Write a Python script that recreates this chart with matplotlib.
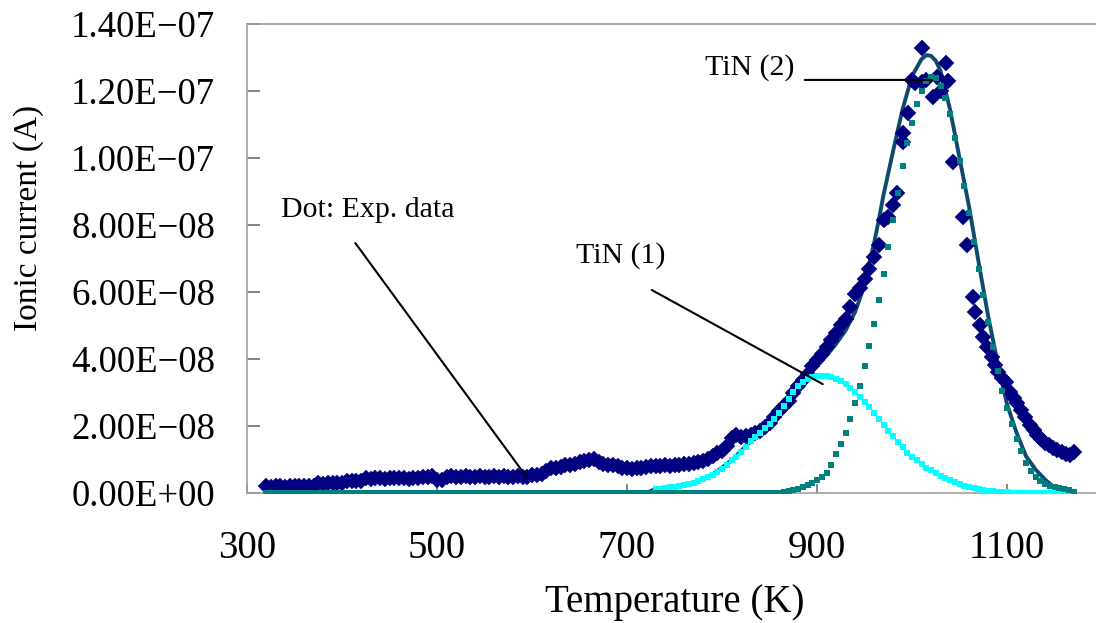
import numpy as np
import matplotlib.pyplot as plt
from matplotlib.ticker import FuncFormatter, MultipleLocator

plt.rcParams['font.family'] = ['Liberation Serif', 'DejaVu Serif']

# valores de corrente em unidades de 1e-8 A
ESCALA = 1e-8

# dados experimentais (losangos)
exp_t = list(range(320, 985, 5)) + [
    984, 990, 991, 996, 1000, 1003, 1010, 1011, 1015, 1022,
    1026, 1031, 1036, 1038, 1043, 1054, 1058, 1064, 1066, 1072,
    1075, 1079, 1084, 1087, 1091, 1095, 1099, 1103, 1107, 1111,
    1115, 1119, 1124, 1128, 1132, 1136, 1140, 1144, 1148, 1153,
    1158, 1162, 1166, 1170,
]
exp_i = [
    0.20, 0.18, 0.21, 0.20, 0.19, 0.21, 0.20, 0.22, 0.21, 0.20,
    0.22, 0.29, 0.28, 0.30, 0.29, 0.31, 0.30, 0.36, 0.35, 0.37,
    0.36, 0.44, 0.43, 0.45, 0.44, 0.43, 0.45, 0.44, 0.46, 0.44,
    0.43, 0.45, 0.44, 0.49, 0.48, 0.50, 0.38, 0.40, 0.49, 0.50,
    0.48, 0.49, 0.51, 0.49, 0.48, 0.50, 0.49, 0.48, 0.50, 0.49,
    0.51, 0.48, 0.49, 0.50, 0.48, 0.49, 0.54, 0.55, 0.56, 0.66,
    0.74, 0.76, 0.78, 0.84, 0.85, 0.86, 0.92, 0.94, 0.98, 1.02,
    0.92, 0.86, 0.84, 0.83, 0.80, 0.76, 0.75, 0.73, 0.76, 0.74,
    0.77, 0.80, 0.82, 0.80, 0.84, 0.82, 0.85, 0.83, 0.86, 0.88,
    0.90, 0.92, 0.96, 1.02, 1.10, 1.18, 1.25, 1.40, 1.65, 1.72,
    1.68, 1.70, 1.74, 1.80, 1.86, 1.97, 2.10, 2.27, 2.45, 2.60,
    2.75, 2.98, 3.20, 3.38, 3.55, 3.78, 3.97, 4.15, 4.35, 4.58,
    4.78, 5.00, 5.20, 5.55, 5.95, 6.12, 6.40, 6.70, 7.05, 7.40,
    8.15, 8.25, 8.60,
    8.96, 10.48, 10.75, 11.34, 12.33, 12.24, 13.28, 12.27, 12.33, 11.82,
    12.42, 12.00, 12.84, 12.30, 9.88, 8.24, 7.40, 5.85, 5.40, 5.01,
    4.66, 4.35, 4.06, 3.82, 3.60, 3.43, 3.31, 3.01, 2.85, 2.69,
    2.48, 2.27, 2.03, 1.88, 1.73, 1.60, 1.49, 1.42, 1.34, 1.28,
    1.22, 1.16, 1.13, 1.22,
]

# pico TiN (1) - ciano
tin1_t = list(range(730, 1175, 5))
tin1_i = [
    0.12, 0.13, 0.15, 0.17, 0.19, 0.21, 0.24, 0.27, 0.31, 0.35,
    0.41, 0.48, 0.55, 0.63, 0.73, 0.85, 0.97, 1.08, 1.22, 1.36,
    1.54, 1.68, 1.80, 1.93, 2.07, 2.22, 2.40, 2.60, 2.80, 3.00,
    3.18, 3.30, 3.40, 3.45, 3.48, 3.50, 3.49, 3.46, 3.41, 3.35,
    3.26, 3.14, 3.02, 2.88, 2.72, 2.57, 2.40, 2.22, 2.03, 1.86,
    1.70, 1.52, 1.36, 1.20, 1.08, 0.97, 0.86, 0.76, 0.68, 0.60,
    0.52, 0.45, 0.39, 0.33, 0.27, 0.22, 0.18, 0.15, 0.12, 0.09,
    0.07, 0.05, 0.03, 0.02, 0.02, 0.01, 0.01, 0.01, 0.00, 0.00,
    0.00, 0.00, 0.00, 0.00, 0.00, 0.00, 0.00, 0.00, 0.00,
]

# pico TiN (2) - verde-azulado
tin2_t = list(range(320, 1175, 5))
tin2_i = [
    0.00, 0.00, 0.00, 0.00, 0.00, 0.00, 0.00, 0.00, 0.00, 0.00,
    0.00, 0.00, 0.00, 0.00, 0.00, 0.00, 0.00, 0.00, 0.00, 0.00,
    0.00, 0.00, 0.00, 0.00, 0.00, 0.00, 0.00, 0.00, 0.00, 0.00,
    0.00, 0.00, 0.00, 0.00, 0.00, 0.00, 0.00, 0.00, 0.00, 0.00,
    0.00, 0.00, 0.00, 0.00, 0.00, 0.00, 0.00, 0.00, 0.00, 0.00,
    0.00, 0.00, 0.00, 0.00, 0.00, 0.00, 0.00, 0.00, 0.00, 0.00,
    0.00, 0.00, 0.00, 0.00, 0.00, 0.00, 0.00, 0.00, 0.00, 0.00,
    0.00, 0.00, 0.00, 0.00, 0.00, 0.00, 0.00, 0.00, 0.00, 0.00,
    0.00, 0.00, 0.00, 0.00, 0.00, 0.00, 0.00, 0.00, 0.00, 0.00,
    0.00, 0.00, 0.00, 0.00, 0.00, 0.00, 0.00, 0.00, 0.00, 0.00,
    0.00, 0.00, 0.00, 0.00, 0.00, 0.00, 0.00, 0.00, 0.00,
    0.03, 0.05, 0.08, 0.12, 0.17, 0.24, 0.31, 0.39, 0.48, 0.60,
    0.85, 1.15, 1.45, 1.80, 2.20, 2.70, 3.20, 3.80, 4.40, 5.05,
    5.75, 6.55, 7.35, 8.15, 8.95, 9.75, 10.45, 11.05, 11.60, 12.00,
    12.30, 12.42, 12.38, 12.15, 11.80, 11.30, 10.60, 9.90, 9.15, 8.35,
    7.50, 6.70, 5.90, 5.10, 4.35, 3.65, 3.05, 2.55, 2.05, 1.62,
    1.25, 0.90, 0.65, 0.47, 0.36, 0.28, 0.22, 0.17, 0.14, 0.12,
    0.08, 0.02,
]

# ajuste total (linha)
fit_t = [
    320, 720, 730, 750, 770, 790, 810, 830, 850, 870,
    880, 890, 900, 910, 920, 930, 940, 950, 955, 960,
    965, 970, 980, 990, 1000, 1010, 1015, 1020, 1025, 1030,
    1040, 1050, 1060, 1070, 1080, 1090, 1100, 1110, 1120, 1130,
    1140, 1150, 1160, 1170,
]
fit_i = [
    0.00, 0.00, 0.12, 0.19, 0.31, 0.55, 0.97, 1.54, 2.07, 2.85,
    3.30, 3.62, 3.80, 4.10, 4.45, 4.85, 5.40, 6.20, 6.85, 7.45,
    8.15, 8.90, 10.20, 11.45, 12.45, 12.95, 13.07, 13.05, 12.90, 12.60,
    11.45, 10.00, 8.55, 6.90, 5.30, 3.90, 2.65, 1.80, 1.10, 0.70,
    0.40, 0.16, 0.06, 0.00,
]

# rótulos: texto, posição do texto, início e fim da linha guia
rotulos = ['Dot: Exp. data', 'TiN (1)', 'TiN (2)']
rotulo_xy = [(336, 8.24), (646, 6.87), (782, 12.48)]
guia_ini = [(414, 7.46), (726, 6.06), (887, 12.33)]
guia_fim = [(595, 0.45), (906, 3.25), (1021, 12.33)]


def fmt_y(v, pos):
    return f'{v:.2E}'.replace('-', '\u2212')


fig = plt.figure(figsize=(10.96, 6.23), dpi=100)
ax = fig.add_axes([0.2254, 0.2087, 0.7801, 0.7528])

ax.plot(np.array(fit_t), np.array(fit_i) * ESCALA, color='#0d4a6e', lw=2.8,
        solid_joinstyle='round', zorder=2)
ax.plot(np.array(exp_t), np.array(exp_i) * ESCALA, ls='none', marker='D',
        ms=8.5, color='#000080', mec='#000080', mew=0.3, zorder=3)
ax.plot(np.array(tin1_t), np.array(tin1_i) * ESCALA, ls='none', marker='s',
        ms=4.6, color='#00ffff', mew=0, zorder=4)
ax.plot(np.array(tin2_t), np.array(tin2_i) * ESCALA, ls='none', marker='s',
        ms=4.4, color='#008080', mew=0, zorder=5)

for txt, (tx, ty), (x0, y0), (x1, y1) in zip(rotulos, rotulo_xy, guia_ini, guia_fim):
    ax.text(tx, ty * ESCALA, txt, fontsize=21.5, ha='left', va='baseline', zorder=6)
    ax.annotate('', xy=(x1, y1 * ESCALA), xytext=(x0, y0 * ESCALA),
                arrowprops=dict(arrowstyle='-', color='black', lw=1.5,
                                shrinkA=0, shrinkB=0), zorder=6)

ax.set_xlim(300, 1200)
ax.set_ylim(0, 1.4e-7)
ax.set_xticks([300, 500, 700, 900, 1100])
ax.yaxis.set_major_locator(MultipleLocator(2e-8))
ax.yaxis.set_major_formatter(FuncFormatter(fmt_y))

ax.tick_params(axis='both', direction='in', color='#707070', width=1.2)
ax.tick_params(axis='y', length=9.5, pad=23, labelsize=26.5)
ax.tick_params(axis='x', length=6.5, pad=27, labelsize=28)

for lado in ['left', 'bottom', 'top']:
    ax.spines[lado].set_color('#a0a0a0')
    ax.spines[lado].set_linewidth(1.2)
ax.spines['right'].set_visible(False)

ax.set_xlabel('Temperature (K)', fontsize=28, va='center')
ax.xaxis.set_label_coords(0.5, -0.2345)
ax.set_ylabel('Ionic current (A)', fontsize=24, va='center')
ax.yaxis.set_label_coords(-0.256, 0.586)

fig.savefig('out.png', dpi=100)
plt.close(fig)
